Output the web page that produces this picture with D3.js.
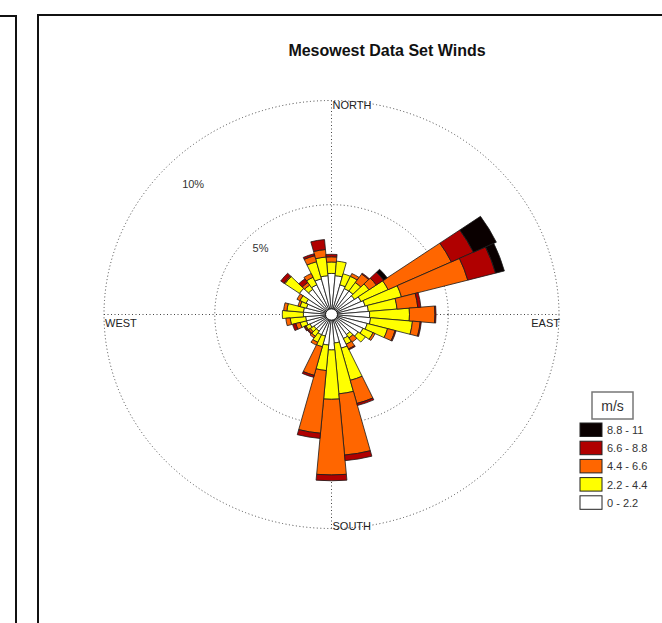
<!DOCTYPE html>
<html>
<head>
<meta charset="utf-8">
<script src="https://cdn.jsdelivr.net/npm/d3@7"></script>
<style>
  body { margin: 0; background: #fff; }
  svg { display: block; font-family: "Liberation Sans", Arial, sans-serif; }
</style>
</head>
<body>
<div id="chart"></div>
<script>
// Wind direction bins (degrees, clockwise from north)
const directions = d3.range(0, 360, 10);

// Speed classes, lowest first
const speedLabels = ["0 - 2.2", "2.2 - 4.4", "4.4 - 6.6", "6.6 - 8.8", "8.8 - 11"];
const speedColors = ["#ffffff", "#ffff00", "#ff6600", "#b00000", "#0a0000"];

// Frequency (%) of each speed class per direction
const speed0to2 = [1.7, 1.6, 1.2, 1.1, 1.1, 1.0, 1.2, 1.3, 1.4, 1.45, 1.5, 1.4, 1.3, 1.2, 0.9, 1.0, 1.4, 1.1,
  1.43, 1.2, 0.8, 0.8, 0.7, 0.7, 0.8, 0.9, 0.9, 1.0, 1.0, 0.9, 1.0, 1.5, 1.2, 1.3, 1.5, 1.6];
const speed2to4 = [0.55, 0.7, 0.55, 0.65, 0.5, 0.8, 1.35, 1.7, 1.3, 1.8, 1.9, 0.95, 0.5, 0.4, 0.2, 0.3, 1.6, 2.45,
  2.37, 1.23, 0.53, 0.4, 0.3, 0.2, 0.2, 0.3, 0.7, 0.95, 0.75, 0.3, 0.3, 0.8, 0.25, 0.4, 0.85, 0.9];
const speed4to6 = [0.25, 0, 0, 0.15, 0.5, 0.4, 3.15, 3.1, 0.94, 1.15, 0.35, 0.35, 0.1, 0, 0.25, 0.25, 1.15, 2.95,
  3.63, 3.02, 1.42, 0.15, 0.1, 0.1, 0.05, 0.2, 0.2, 0, 0.15, 0.1, 0.15, 0.05, 0.15, 0.2, 0.3, 0.36];
const speed6to8 = [0.12, 0, 0, 0, 0.05, 0.4, 1.1, 1.3, 0.14, 0.05, 0.05, 0.05, 0, 0, 0, 0.05, 0.1, 0.27,
  0.28, 0.25, 0.1, 0, 0, 0.05, 0.05, 0.15, 0, 0, 0, 0, 0, 0.18, 0.22, 0, 0.1, 0.48];
const speed8to11 = [0, 0, 0, 0, 0, 0.2, 1.14, 0.41, 0, 0, 0, 0, 0, 0, 0, 0, 0, 0,
  0, 0, 0, 0, 0, 0, 0, 0, 0, 0, 0, 0, 0, 0, 0, 0, 0, 0];

const ringValues = [5, 10];
const cardinals = ["NORTH", "EAST", "SOUTH", "WEST"];

const width = 662;
const height = 623;
const cx = 331.5, cy = 314.5;
const squash = 0.9407; // the source picture is slightly flattened vertically

const svg = d3.select("#chart")
  .append("svg")
  .attr("width", width)
  .attr("height", height);

// Panel frames (neighbouring panel on the left, this one on the right)
svg.append("rect")
  .attr("x", -10).attr("y", 16).attr("width", 26).attr("height", 700)
  .attr("fill", "none").attr("stroke", "#111").attr("stroke-width", 2);
svg.append("rect")
  .attr("x", 38).attr("y", 15).attr("width", 700).attr("height", 700)
  .attr("fill", "none").attr("stroke", "#111").attr("stroke-width", 2);

// Title
svg.append("text")
  .attr("x", 387).attr("y", 56)
  .attr("text-anchor", "middle")
  .style("font-size", "16px")
  .style("font-weight", "bold")
  .attr("fill", "#111")
  .text("Mesowest Data Set Winds");

// Radial scale, % -> px
const r = d3.scaleLinear().domain([0, 10]).range([6, 227.5]);
const rMax = r(10);

const rose = svg.append("g")
  .attr("transform", `translate(${cx},${cy}) scale(1,${squash})`);

// Grid rings and cross
rose.selectAll(".ring")
  .data(ringValues)
  .enter()
  .append("circle")
  .attr("class", "ring")
  .attr("r", d => r(d))
  .attr("fill", "none")
  .attr("stroke", "#444")
  .attr("stroke-width", 1)
  .attr("stroke-dasharray", "1,2.5")
  .attr("vector-effect", "non-scaling-stroke");

rose.append("line")
  .attr("x1", 0).attr("x2", 0).attr("y1", -rMax).attr("y2", rMax)
  .attr("stroke", "#444").attr("stroke-dasharray", "1,2.5")
  .attr("vector-effect", "non-scaling-stroke");
rose.append("line")
  .attr("y1", 0).attr("y2", 0).attr("x1", -rMax).attr("x2", rMax)
  .attr("stroke", "#444").attr("stroke-dasharray", "1,2.5")
  .attr("vector-effect", "non-scaling-stroke");

// Stack the speed classes
const keys = ["s0", "s1", "s2", "s3", "s4"];
const table = directions.map((dir, i) => ({
  dir: dir,
  s0: speed0to2[i],
  s1: speed2to4[i],
  s2: speed4to6[i],
  s3: speed6to8[i],
  s4: speed8to11[i]
}));
const stacked = d3.stack().keys(keys)(table);

const arc = d3.arc()
  .innerRadius(d => r(d[0]))
  .outerRadius(d => r(d[1]))
  .startAngle(d => (d.data.dir - 5) * Math.PI / 180)
  .endAngle(d => (d.data.dir + 5) * Math.PI / 180);

rose.selectAll(".layer")
  .data(stacked)
  .enter()
  .append("g")
  .attr("class", "layer")
  .attr("fill", (d, i) => speedColors[i])
  .selectAll("path")
  .data(d => d.filter(s => s[1] - s[0] > 0))
  .enter()
  .append("path")
  .attr("d", arc)
  .attr("stroke", "#1a1a1a")
  .attr("stroke-width", 0.8)
  .attr("stroke-linejoin", "round")
  .attr("vector-effect", "non-scaling-stroke");

// Center hole
rose.append("circle")
  .attr("r", r(0))
  .attr("fill", "#fff")
  .attr("stroke", "#111")
  .attr("stroke-width", 1)
  .attr("vector-effect", "non-scaling-stroke");

// Ring labels, placed toward north-west
svg.selectAll(".ring-label")
  .data(ringValues)
  .enter()
  .append("text")
  .attr("class", "ring-label")
  .attr("x", d => cx - r(d) * 0.86 * Math.sin(Math.PI / 4))
  .attr("y", d => cy - r(d) * 0.86 * Math.cos(Math.PI / 4) * squash)
  .attr("dy", "0.35em")
  .attr("text-anchor", "middle")
  .style("font-size", "11px")
  .attr("fill", "#333")
  .text(d => d + "%");

// Cardinal labels
const cardPos = {
  NORTH: { x: cx + 1, y: cy - rMax * squash + 9, anchor: "start" },
  EAST: { x: cx + rMax + 1, y: cy + 12.5, anchor: "end" },
  SOUTH: { x: cx + 1, y: cy + rMax * squash + 1.5, anchor: "start" },
  WEST: { x: cx - rMax + 1, y: cy + 12.5, anchor: "start" }
};
svg.selectAll(".cardinal")
  .data(cardinals)
  .enter()
  .append("text")
  .attr("class", "cardinal")
  .attr("x", d => cardPos[d].x)
  .attr("y", d => cardPos[d].y)
  .attr("text-anchor", d => cardPos[d].anchor)
  .style("font-size", "11px")
  .attr("fill", "#222")
  .text(d => d);

// Legend
const legend = svg.append("g").attr("transform", "translate(580,392)");

legend.append("rect")
  .attr("x", 12).attr("y", 0).attr("width", 41).attr("height", 27)
  .attr("fill", "#fff").attr("stroke", "#777").attr("stroke-width", 1.5);
legend.append("text")
  .attr("x", 32.5).attr("y", 19)
  .attr("text-anchor", "middle")
  .style("font-size", "14px")
  .attr("fill", "#333")
  .text("m/s");

const legendItems = legend.selectAll(".legend-item")
  .data(d3.range(speedLabels.length).reverse())
  .enter()
  .append("g")
  .attr("class", "legend-item")
  .attr("transform", (d, i) => `translate(0, ${31 + i * 18.2})`);

legendItems.append("rect")
  .attr("width", 22)
  .attr("height", 13.5)
  .attr("fill", d => speedColors[d])
  .attr("stroke", "#222")
  .attr("stroke-width", 1);

legendItems.append("text")
  .attr("x", 27)
  .attr("y", 11)
  .style("font-size", "11px")
  .attr("fill", "#333")
  .text(d => speedLabels[d]);
</script>
</body>
</html>
